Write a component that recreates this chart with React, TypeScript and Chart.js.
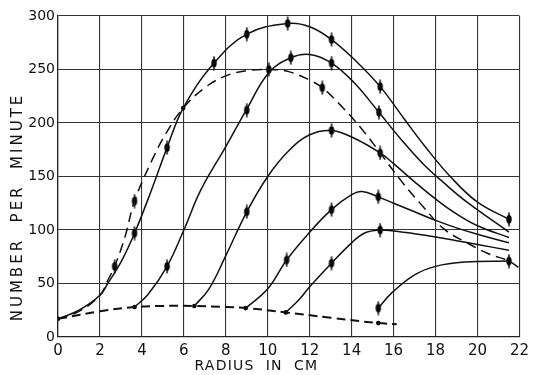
import { useEffect, useRef } from 'react';
import { Chart, registerables } from 'chart.js';

Chart.register(...registerables);

// Axis
const xMin = 0, xMax = 22, xStep = 2;
const yMin = 0, yMax = 300, yStep = 50;
const xTitle = 'RADIUS  IN  CM';
const yTitle = 'NUMBER  PER  MINUTE';

// Solid curves (x in cm, y in counts per minute)
const curveAX = [0, 1, 2, 2.37, 3, 3.65, 4.45, 5.2, 5.97, 7.44, 9.0, 10.95, 12.0, 13.04, 14.2, 15.36, 16.5, 17.5, 18.7, 20.0, 21.5];
const curveAY = [17, 25, 39, 50, 70, 97, 137, 177, 214, 256, 283, 293, 290, 278, 258, 234, 204, 178, 150, 126, 110];

const curveBX = [3.65, 4.3, 5.2, 6.0, 6.8, 8.0, 9.0, 10.05, 11.1, 12.0, 13.04, 14.1, 15.3, 16.3, 17.4, 18.4, 19.5, 21.5];
const curveBY = [28, 40, 66, 100, 137, 178, 213, 247, 261, 264, 256, 238, 210, 186, 162, 144, 126, 98];

const curveCX = [6.5, 7.2, 8.0, 9.0, 10.0, 11.0, 12.0, 13.04, 14.1, 15.36, 16.0, 17.0, 18.0, 19.0, 20.0, 21.5];
const curveCY = [29, 45, 76, 117, 150, 174, 189, 193, 186, 172, 162, 145, 129, 115, 104, 93];

const curveDX = [8.95, 10.0, 10.9, 12.0, 13.04, 14.0, 14.5, 15.27, 16.0, 17.0, 18.0, 19.0, 20.0, 21.5];
const curveDY = [27, 45, 72, 98, 119, 133, 136, 131, 125, 117, 109, 102, 96, 88];

const curveEX = [10.86, 11.5, 12.0, 13.04, 14.0, 14.6, 15.36, 16.0, 17.0, 18.0, 19.0, 20.0, 21.5];
const curveEY = [23, 35, 47, 69, 88, 97, 100, 99, 96.5, 93.5, 90, 86.5, 81];

const curveFX = [15.27, 15.9, 17.0, 18.0, 19.4, 21.5];
const curveFY = [27, 41, 58, 66, 70, 71];

// Dashed curves
const dashX = [0, 1, 2, 2.4, 2.7, 3.2, 3.65, 4.5, 5.2, 5.97, 7.0, 8.0, 9.0, 10.05, 11.0, 12.0, 12.6, 13.5, 14.5, 15.36, 16.4, 17.4, 18.4, 19.5, 20.5, 21.5, 21.95];
const dashY = [17, 24, 39, 54, 66, 94, 127, 166, 192, 214, 233, 244, 249, 250, 248, 240, 233, 216, 194, 172, 145, 122, 101, 88, 78, 71, 65];

const baseX = [0, 2, 3.65, 5.0, 6.5, 8.0, 9.0, 10.86, 13.0, 15.27, 16.15];
const baseY = [17, 24, 28, 29, 29, 28, 27, 23, 18, 13, 12];

// Measured points (error-bar markers)
const markX = [3.65, 5.2, 7.44, 9.0, 10.95, 13.04, 15.36, 21.5, 2.7, 3.65, 10.05, 12.6, 15.36, 5.2, 9.0, 11.1, 13.04, 15.3, 9.0, 13.04, 10.9, 13.04, 15.27, 13.04, 15.36, 15.27, 21.5];
const markY = [97, 177, 256, 283, 293, 278, 234, 110, 66, 127, 250, 233, 172, 66, 212, 261, 256, 210, 117, 193, 72, 119, 131, 69, 100, 27, 71];

// Small dots (start points / crossings)
const dotX = [0, 3.65, 6.5, 8.95, 10.86, 15.27, 5.97];
const dotY = [17, 28, 29, 27, 23, 13, 214];

const pts = (xs: number[], ys: number[]) => xs.map((x, i) => ({ x, y: ys[i] }));

const FONT = '"DejaVu Sans", sans-serif';

const titlePlugin = {
  id: 'axisTitles',
  afterDraw(chart: any) {
    const { ctx, chartArea } = chart;
    const w = chartArea.right - chartArea.left;
    const h = chartArea.bottom - chartArea.top;
    ctx.save();
    ctx.fillStyle = '#111';
    ctx.textAlign = 'center';
    ctx.textBaseline = 'middle';
    ctx.font = '14px ' + FONT;
    (ctx as any).letterSpacing = '1.2px';
    ctx.fillText(xTitle, chartArea.left + w * 0.43, chartArea.bottom + 29);
    ctx.font = '15px ' + FONT;
    (ctx as any).letterSpacing = '3px';
    ctx.translate(18, chartArea.top + h * 0.595);
    ctx.rotate(-Math.PI / 2);
    ctx.fillText(yTitle, 0, 0);
    ctx.restore();
  },
};

export default function App() {
  const ref = useRef<HTMLCanvasElement | null>(null);

  useEffect(() => {
    if (!ref.current) return;
    const marker = document.createElement('canvas');
    marker.width = 8;
    marker.height = 15;
    const mc = marker.getContext('2d')!;
    mc.fillStyle = '#000';
    mc.beginPath();
    mc.ellipse(4, 7.5, 2.7, 4.2, 0, 0, Math.PI * 2);
    mc.fill();
    mc.fillRect(3.3, 0.5, 1.4, 14);

    const solid = (xs: number[], ys: number[]) => ({
      type: 'line' as const,
      data: pts(xs, ys),
      borderColor: '#111',
      borderWidth: 1.5,
      pointRadius: 0,
      tension: 0.4,
      fill: false,
    });

    const chart = new Chart(ref.current, {
      type: 'line',
      data: {
        datasets: [
          solid(curveAX, curveAY),
          solid(curveBX, curveBY),
          solid(curveCX, curveCY),
          solid(curveDX, curveDY),
          solid(curveEX, curveEY),
          solid(curveFX, curveFY),
          { ...solid(dashX, dashY), borderDash: [10, 6] },
          { ...solid(baseX, baseY), borderDash: [9, 5], borderWidth: 2 },
          {
            type: 'scatter',
            data: pts(markX, markY),
            pointStyle: marker as any,
            pointRadius: 5,
            showLine: false,
          } as any,
          {
            type: 'scatter',
            data: pts(dotX, dotY),
            pointStyle: 'circle',
            pointRadius: 2.3,
            backgroundColor: '#000',
            borderColor: '#000',
            borderWidth: 0,
            showLine: false,
          } as any,
        ],
      },
      options: {
        animation: false,
        responsive: true,
        maintainAspectRatio: false,
        layout: { padding: { left: 0, top: 16, right: 12, bottom: 0 } },
        plugins: { legend: { display: false }, tooltip: { enabled: false } },
        scales: {
          x: {
            type: 'linear',
            min: xMin,
            max: xMax,
            afterFit: (s: any) => { s.height = 38; },
            ticks: {
              stepSize: xStep,
              color: '#111',
              padding: 5,
              font: { family: FONT, size: 15 },
            },
            grid: { color: '#333', lineWidth: 1.1, drawTicks: false },
            border: { color: '#222', width: 1.3 },
          },
          y: {
            type: 'linear',
            min: yMin,
            max: yMax,
            afterFit: (s: any) => { s.width = 58; },
            ticks: {
              stepSize: yStep,
              color: '#111',
              padding: 3,
              font: { family: FONT, size: 14 },
            },
            grid: { color: '#333', lineWidth: 1.1, drawTicks: false },
            border: { color: '#222', width: 1.3 },
          },
        },
      },
      plugins: [titlePlugin],
    } as any);
    return () => chart.destroy();
  }, []);

  return (
    <div style={{ position: 'fixed', left: 0, top: 0, width: 534, height: 375, background: '#fff' }}>
      <canvas ref={ref} />
    </div>
  );
}
